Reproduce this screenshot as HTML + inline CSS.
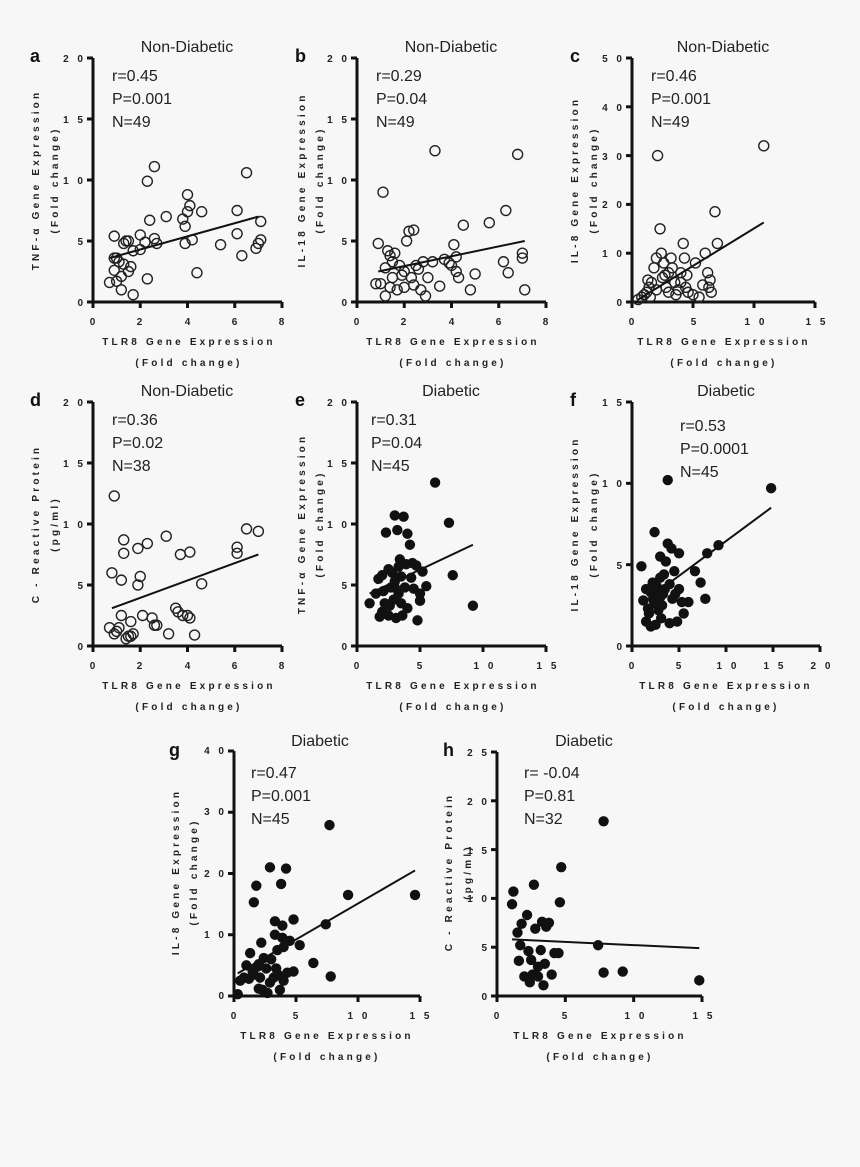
<!DOCTYPE html>
<html><head><meta charset="utf-8"><style>
html,body{margin:0;padding:0;background:#f7f7f7}
svg{display:block}
.t{font-family:"Liberation Sans",sans-serif;font-size:16px;fill:#222}
.k{font-family:"Liberation Sans",sans-serif;font-size:10px;font-weight:bold;fill:#222;letter-spacing:3px}
.ax{font-family:"Liberation Sans",sans-serif;font-size:10px;font-weight:bold;fill:#222;letter-spacing:3.2px}
.l{font-family:"Liberation Sans",sans-serif;font-size:18px;font-weight:bold;fill:#111}
</style></head><body>
<svg id="s" width="860" height="1167" viewBox="0 0 860 1167" xmlns="http://www.w3.org/2000/svg">
<rect width="860" height="1167" fill="#f7f7f7"/>
<g id="plots"></g>
<!-- panel a -->
<text class="l" x="30" y="62">a</text>
<text class="t" x="187" y="52" text-anchor="middle">Non-Diabetic</text>
<text class="t" x="112" y="81">r=0.45</text><text class="t" x="112" y="104">P=0.001</text><text class="t" x="112" y="127">N=49</text>
<g class="k" text-anchor="end"><text x="86" y="306">0</text><text x="86" y="245">5</text><text x="86" y="184">1 0</text><text x="86" y="123">1 5</text><text x="86" y="62">2 0</text></g>
<g class="k" text-anchor="middle"><text x="94" y="325">0</text><text x="141" y="325">2</text><text x="189" y="325">4</text><text x="236" y="325">6</text><text x="283" y="325">8</text></g>
<text class="ax" x="189" y="345" text-anchor="middle">TLR8 Gene Expression</text>
<text class="ax" x="189" y="366" text-anchor="middle">(Fold change)</text>
<text class="ax" transform="translate(39,180) rotate(-90)" text-anchor="middle">TNF-α Gene Expression</text>
<text class="ax" transform="translate(58,180) rotate(-90)" text-anchor="middle">(Fold change)</text>
<!-- panel b -->
<text class="l" x="295" y="62">b</text>
<text class="t" x="451" y="52" text-anchor="middle">Non-Diabetic</text>
<text class="t" x="376" y="81">r=0.29</text><text class="t" x="376" y="104">P=0.04</text><text class="t" x="376" y="127">N=49</text>
<g class="k" text-anchor="end"><text x="350" y="306">0</text><text x="350" y="245">5</text><text x="350" y="184">1 0</text><text x="350" y="123">1 5</text><text x="350" y="62">2 0</text></g>
<g class="k" text-anchor="middle"><text x="358" y="325">0</text><text x="405" y="325">2</text><text x="453" y="325">4</text><text x="500" y="325">6</text><text x="547" y="325">8</text></g>
<text class="ax" x="453" y="345" text-anchor="middle">TLR8 Gene Expression</text>
<text class="ax" x="453" y="366" text-anchor="middle">(Fold change)</text>
<text class="ax" transform="translate(305,180) rotate(-90)" text-anchor="middle">IL-18 Gene Expression</text>
<text class="ax" transform="translate(323,180) rotate(-90)" text-anchor="middle">(Fold change)</text>
<!-- panel c -->
<text class="l" x="570" y="62">c</text>
<text class="t" x="723" y="52" text-anchor="middle">Non-Diabetic</text>
<text class="t" x="651" y="81">r=0.46</text><text class="t" x="651" y="104">P=0.001</text><text class="t" x="651" y="127">N=49</text>
<g class="k" text-anchor="end"><text x="625" y="306">0</text><text x="625" y="257">1 0</text><text x="625" y="208">2 0</text><text x="625" y="160">3 0</text><text x="625" y="111">4 0</text><text x="625" y="62">5 0</text></g>
<g class="k" text-anchor="middle"><text x="633" y="325">0</text><text x="695" y="325">5</text><text x="756" y="325">1 0</text><text x="817" y="325">1 5</text></g>
<text class="ax" x="724" y="345" text-anchor="middle">TLR8 Gene Expression</text>
<text class="ax" x="724" y="366" text-anchor="middle">(Fold change)</text>
<text class="ax" transform="translate(578,180) rotate(-90)" text-anchor="middle">IL-8 Gene Expression</text>
<text class="ax" transform="translate(597,180) rotate(-90)" text-anchor="middle">(Fold change)</text>
<!-- panel d -->
<text class="l" x="30" y="406">d</text>
<text class="t" x="187" y="396" text-anchor="middle">Non-Diabetic</text>
<text class="t" x="112" y="425">r=0.36</text><text class="t" x="112" y="448">P=0.02</text><text class="t" x="112" y="471">N=38</text>
<g class="k" text-anchor="end"><text x="86" y="650">0</text><text x="86" y="589">5</text><text x="86" y="528">1 0</text><text x="86" y="467">1 5</text><text x="86" y="406">2 0</text></g>
<g class="k" text-anchor="middle"><text x="94" y="669">0</text><text x="141" y="669">2</text><text x="189" y="669">4</text><text x="236" y="669">6</text><text x="283" y="669">8</text></g>
<text class="ax" x="189" y="689" text-anchor="middle">TLR8 Gene Expression</text>
<text class="ax" x="189" y="710" text-anchor="middle">(Fold change)</text>
<text class="ax" transform="translate(39,524) rotate(-90)" text-anchor="middle">C - Reactive Protein</text>
<text class="ax" transform="translate(58,524) rotate(-90)" text-anchor="middle">(pg/ml)</text>
<!-- panel e -->
<text class="l" x="295" y="406">e</text>
<text class="t" x="451" y="396" text-anchor="middle">Diabetic</text>
<text class="t" x="371" y="425">r=0.31</text><text class="t" x="371" y="448">P=0.04</text><text class="t" x="371" y="471">N=45</text>
<g class="k" text-anchor="end"><text x="350" y="650">0</text><text x="350" y="589">5</text><text x="350" y="528">1 0</text><text x="350" y="467">1 5</text><text x="350" y="406">2 0</text></g>
<g class="k" text-anchor="middle"><text x="358" y="669">0</text><text x="421" y="669">5</text><text x="485" y="669">1 0</text><text x="548" y="669">1 5</text></g>
<text class="ax" x="453" y="689" text-anchor="middle">TLR8 Gene Expression</text>
<text class="ax" x="453" y="710" text-anchor="middle">(Fold change)</text>
<text class="ax" transform="translate(305,524) rotate(-90)" text-anchor="middle">TNF-α Gene Expression</text>
<text class="ax" transform="translate(323,524) rotate(-90)" text-anchor="middle">(Fold change)</text>
<!-- panel f -->
<text class="l" x="570" y="406">f</text>
<text class="t" x="726" y="396" text-anchor="middle">Diabetic</text>
<text class="t" x="680" y="431">r=0.53</text><text class="t" x="680" y="454">P=0.0001</text><text class="t" x="680" y="477">N=45</text>
<g class="k" text-anchor="end"><text x="625" y="650">0</text><text x="625" y="569">5</text><text x="625" y="487">1 0</text><text x="625" y="406">1 5</text></g>
<g class="k" text-anchor="middle"><text x="633" y="669">0</text><text x="680" y="669">5</text><text x="728" y="669">1 0</text><text x="775" y="669">1 5</text><text x="822" y="669">2 0</text></g>
<text class="ax" x="726" y="689" text-anchor="middle">TLR8 Gene Expression</text>
<text class="ax" x="726" y="710" text-anchor="middle">(Fold change)</text>
<text class="ax" transform="translate(578,524) rotate(-90)" text-anchor="middle">IL-18 Gene Expression</text>
<text class="ax" transform="translate(597,524) rotate(-90)" text-anchor="middle">(Fold change)</text>
<!-- panel g -->
<text class="l" x="169" y="756">g</text>
<text class="t" x="320" y="746" text-anchor="middle">Diabetic</text>
<text class="t" x="251" y="778">r=0.47</text><text class="t" x="251" y="801">P=0.001</text><text class="t" x="251" y="824">N=45</text>
<g class="k" text-anchor="end"><text x="227" y="999">0</text><text x="227" y="938">1 0</text><text x="227" y="877">2 0</text><text x="227" y="815">3 0</text><text x="227" y="754">4 0</text></g>
<g class="k" text-anchor="middle"><text x="235" y="1019">0</text><text x="297" y="1019">5</text><text x="359" y="1019">1 0</text><text x="421" y="1019">1 5</text></g>
<text class="ax" x="327" y="1039" text-anchor="middle">TLR8 Gene Expression</text>
<text class="ax" x="327" y="1060" text-anchor="middle">(Fold change)</text>
<text class="ax" transform="translate(179,872) rotate(-90)" text-anchor="middle">IL-8 Gene Expression</text>
<text class="ax" transform="translate(197,872) rotate(-90)" text-anchor="middle">(Fold change)</text>
<!-- panel h -->
<text class="l" x="443" y="756">h</text>
<text class="t" x="584" y="746" text-anchor="middle">Diabetic</text>
<text class="t" x="524" y="778">r= -0.04</text><text class="t" x="524" y="801">P=0.81</text><text class="t" x="524" y="824">N=32</text>
<g class="k" text-anchor="end"><text x="490" y="1000">0</text><text x="490" y="951">5</text><text x="490" y="902">1 0</text><text x="490" y="854">1 5</text><text x="490" y="805">2 0</text><text x="490" y="756">2 5</text></g>
<g class="k" text-anchor="middle"><text x="498" y="1019">0</text><text x="566" y="1019">5</text><text x="636" y="1019">1 0</text><text x="704" y="1019">1 5</text></g>
<text class="ax" x="600" y="1039" text-anchor="middle">TLR8 Gene Expression</text>
<text class="ax" x="600" y="1060" text-anchor="middle">(Fold change)</text>
<text class="ax" transform="translate(452,872) rotate(-90)" text-anchor="middle">C - Reactive Protein</text>
<text class="ax" transform="translate(471,872) rotate(-90)" text-anchor="middle">(pg/ml)</text>
</svg>
<script>
var P=[
{x0:93,x1:282,yT:58,yB:302,xm:8,ym:20,xs:2,ys:5,f:0,L:[0.7,3.6,7,7.0],d:[0.7,1.6,0.9,5.4,0.9,3.6,0.9,2.6,1.0,1.7,1.0,3.6,1.1,3.3,1.2,1.0,1.2,2.1,1.3,3.1,1.3,4.8,1.4,5.0,1.5,2.5,1.5,5.0,1.6,2.9,1.7,0.6,1.7,4.2,2.0,4.3,2.0,5.5,2.2,4.9,2.3,1.9,2.3,9.9,2.4,6.7,2.6,11.1,2.6,5.2,2.7,4.8,3.1,7.0,3.8,6.8,3.9,6.2,3.9,4.8,4.0,8.8,4.0,7.4,4.1,7.9,4.2,5.1,4.4,2.4,4.6,7.4,5.4,4.7,6.1,7.5,6.1,5.6,6.3,3.8,6.5,10.6,6.9,4.4,7.0,4.8,7.1,5.1,7.1,6.6]},
{x0:357,x1:546,yT:58,yB:302,xm:8,ym:20,xs:2,ys:5,f:0,L:[0.9,2.5,7.1,5.0],d:[0.9,4.8,1.0,1.5,1.2,0.5,1.2,2.8,1.3,4.2,1.4,1.2,1.4,3.8,1.5,2.0,1.6,4.0,1.7,1.0,1.8,3.0,1.9,2.2,2.0,2.5,2.0,1.2,2.1,5.0,2.2,5.8,2.4,5.9,2.4,1.4,2.5,3.0,2.6,2.7,2.7,1.0,2.8,3.3,2.9,0.5,3.0,2.0,3.3,12.4,3.2,3.3,3.5,1.3,3.9,3.2,4.0,3.0,4.1,4.7,4.2,2.5,4.3,2.0,4.5,6.3,4.8,1.0,5.0,2.3,5.6,6.5,6.2,3.3,6.3,7.5,6.4,2.4,6.8,12.1,7.0,4.0,7.0,3.6,7.1,1.0,0.8,1.5,1.1,9.0,1.5,3.3,2.3,2.0,3.7,3.5,4.2,3.7]},
{x0:632,x1:815,yT:58,yB:302,xm:15,ym:50,xs:5,ys:10,f:0,L:[0.5,0.5,10.8,16.3],d:[0.5,0.5,0.8,1,1,1.5,1.2,2,1.4,3,1.5,1,1.6,4,1.8,7,2,9,2,2.5,2.1,30,2.3,15,2.4,10,2.5,5,2.6,8,2.8,3,3,6,3,2,3.3,7,3.5,4,3.6,1.5,3.8,2.5,4,4,4,6,4.2,12,4.3,9,4.4,3,4.6,2,5,1.5,5.2,8,5.5,1,6,10,6.2,6,6.3,3,6.5,2,6.8,18.5,7,12,10.8,32,1.3,4.5,2.7,5.5,3.2,9,4.5,5.5,5.8,3.5,6.4,4.5]},
{x0:93,x1:282,yT:402,yB:646,xm:8,ym:20,xs:2,ys:5,f:0,L:[0.8,3.1,7.0,7.5],d:[0.7,1.5,0.8,6.0,0.9,12.3,0.9,1.0,1.0,1.2,1.1,1.5,1.2,2.5,1.2,5.4,1.3,8.7,1.3,7.6,1.4,0.6,1.5,0.8,1.6,0.8,1.6,2.0,1.9,5.0,1.9,8.0,2.0,5.7,2.1,2.5,2.3,8.4,2.5,2.3,2.6,1.7,2.7,1.7,3.1,9.0,3.2,1.0,3.5,3.1,3.7,7.5,3.8,2.5,4.0,2.5,4.1,2.3,4.1,7.7,4.3,0.9,4.6,5.1,6.1,8.1,6.1,7.6,6.5,9.6,7.0,9.4,3.6,2.8,1.7,1.0]},
{x0:357,x1:546,yT:402,yB:646,xm:15,ym:20,xs:5,ys:5,f:1,L:[1,4.3,9.2,8.3],d:[1,3.5,1.5,4.3,1.7,5.5,2,2.8,2,5.8,2.2,3.5,2.3,9.3,2.5,2.5,2.5,6.3,2.7,4.8,2.8,6,2.9,3.8,3,10.7,3,5.3,3.1,2.3,3.2,9.5,3.3,4.3,3.4,7.1,3.5,5.7,3.6,2.5,3.7,10.6,3.8,4.8,3.9,6.7,4,9.2,4,3.1,4.2,8.3,4.3,5.6,4.5,4.7,4.7,6.6,4.8,2.1,5,3.7,5.2,6.1,5.5,4.9,6.2,13.4,7.3,10.1,7.6,5.8,9.2,3.3,2.1,4.5,2.6,3.3,3.3,6.5,3.5,3.5,4.4,6.8,5,4.3,3,4.8,1.8,2.4]},
{x0:632,x1:820,yT:402,yB:646,xm:20,ym:15,xs:5,ys:5,f:1,L:[1,2.6,14.8,8.5],d:[1,4.9,1.2,2.8,1.5,1.5,1.5,3.5,1.7,2.3,2,3.3,2,1.2,2.2,3.9,2.4,7.0,2.5,2.6,2.5,1.3,2.7,3.2,2.8,2.2,3,5.5,3,3.0,3.1,1.7,3.2,2.5,3.4,4.4,3.5,3.5,3.6,5.2,3.8,10.2,3.8,6.3,4,3.8,4,1.4,4.2,6.0,4.3,2.9,4.5,4.6,4.8,1.5,5,3.5,5,5.7,5.5,2.0,6,2.7,6.7,4.6,7.3,3.9,7.8,2.9,8,5.7,9.2,6.2,14.8,9.7,2.3,2.8,3.3,3.2,3.0,4.2,2.6,3.7,4.6,3.2,5.3,2.7,1.8,2.0]},
{x0:234,x1:420,yT:751,yB:996,xm:15,ym:40,xs:5,ys:10,f:1,L:[0.3,3.7,14.6,20.5],d:[0.3,0.3,0.5,2.5,0.8,3,1,5,1.2,2.8,1.3,7,1.5,4,1.8,18,1.6,15.3,2,5.2,2,1.2,2.2,8.7,2.3,1,2.9,21,2.6,4.5,2.7,0.5,3.3,12.2,3,6,3.8,18.3,3.2,3,3.3,10,3.5,7.5,3.7,1,4.2,20.8,4,2.5,4,8,4.8,12.5,4.5,9,4.8,4,5.3,8.3,6.4,5.4,7.4,11.7,7.7,27.9,7.8,3.2,9.2,16.5,14.6,16.5,1.6,3.5,2.4,6.2,3.4,4.5,4.3,3.8,2.9,2.2,1.9,4.8,3.6,3.4,2.1,3,3.9,9.5,3.9,11.5]},
{x0:497,x1:702,yT:752,yB:996,xm:15,ym:25,xs:5,ys:5,f:1,L:[1.1,5.8,14.8,4.9],d:[1.1,9.4,1.2,10.7,1.6,3.6,1.7,5.2,1.8,7.4,2.0,2.0,2.2,8.3,2.3,4.6,2.4,1.4,2.5,3.7,2.6,2.2,2.7,11.4,2.8,6.9,3.0,2.0,3.2,4.7,3.3,7.6,3.4,1.1,3.5,3.3,3.6,7.1,3.8,7.5,4.0,2.2,4.2,4.4,4.5,4.4,4.7,13.2,4.6,9.6,7.4,5.2,7.8,17.9,7.8,2.4,9.2,2.5,14.8,1.6,1.5,6.5,3.0,3.0]}
];
var g=document.getElementById('plots'),ns='http://www.w3.org/2000/svg',h='';
P.forEach(function(p){
 function X(v){return p.x0+v/p.xm*(p.x1-p.x0)}
 function Y(v){return p.yB-v/p.ym*(p.yB-p.yT)}
 h+='<path d="M'+p.x0+' '+p.yT+'V'+p.yB+'H'+p.x1+'" fill="none" stroke="#111" stroke-width="3"/>';
 for(var v=0;v<=p.ym+1e-9;v+=p.ys)h+='<line x1="'+(p.x0-6)+'" x2="'+p.x0+'" y1="'+Y(v)+'" y2="'+Y(v)+'" stroke="#111" stroke-width="3"/>';
 for(var v=0;v<=p.xm+1e-9;v+=p.xs)h+='<line y1="'+(p.yB+6)+'" y2="'+p.yB+'" x1="'+X(v)+'" x2="'+X(v)+'" stroke="#111" stroke-width="3"/>';
 for(var i=0;i<p.d.length;i+=2){
  h+=p.f?'<circle cx="'+X(p.d[i])+'" cy="'+Y(p.d[i+1])+'" r="5.2" fill="#111"/>':'<circle cx="'+X(p.d[i])+'" cy="'+Y(p.d[i+1])+'" r="5" fill="none" stroke="#222" stroke-width="1.4"/>';
 }
 h+='<line x1="'+X(p.L[0])+'" y1="'+Y(p.L[1])+'" x2="'+X(p.L[2])+'" y2="'+Y(p.L[3])+'" stroke="#111" stroke-width="2"/>';
});
g.innerHTML=h;
</script>
</body></html>
